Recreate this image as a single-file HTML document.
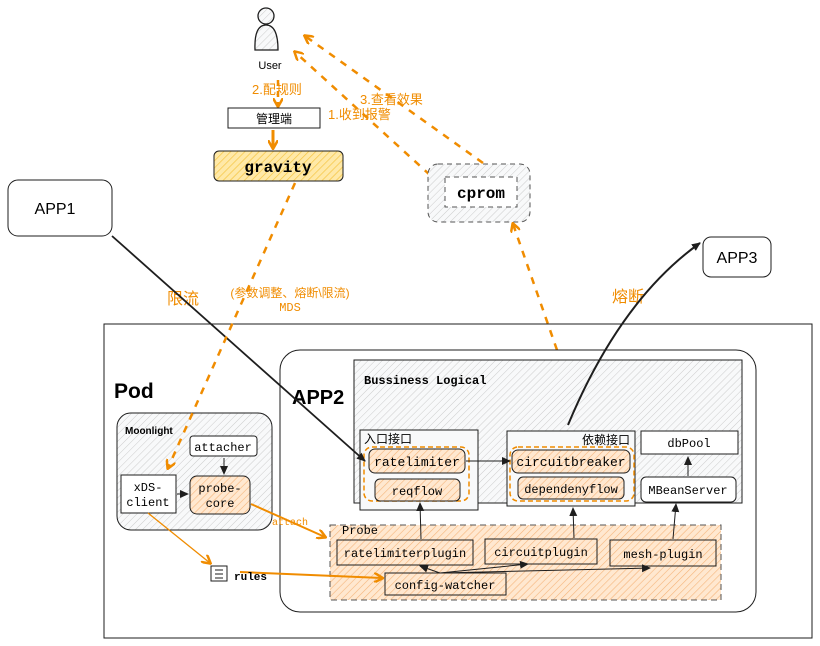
<!DOCTYPE html>
<html><head><meta charset="utf-8"><style>
html,body{margin:0;padding:0;background:#fff;}
svg{display:block;}
text{font-family:"Liberation Mono","Noto Sans CJK SC",monospace;}
.s{font-family:"Liberation Sans","Noto Sans CJK SC",sans-serif;}
.o{fill:#f08c00;}
</style></head><body>
<svg width="820" height="646" viewBox="0 0 820 646" xmlns="http://www.w3.org/2000/svg">
<defs>
<pattern id="h" width="5" height="5" patternUnits="userSpaceOnUse" patternTransform="rotate(45)"><rect width="5" height="5" fill="#f8f9fa"/><line x1="0" y1="0" x2="0" y2="5" stroke="#ccc" stroke-width="1"/></pattern>
<pattern id="ho" width="5" height="5" patternUnits="userSpaceOnUse" patternTransform="rotate(45)"><rect width="5" height="5" fill="#ffe8d0"/><line x1="0" y1="0" x2="0" y2="5" stroke="#f5b57a" stroke-width="1.2"/></pattern>
<pattern id="hy" width="5" height="5" patternUnits="userSpaceOnUse" patternTransform="rotate(45)"><rect width="5" height="5" fill="#ffe9a8"/><line x1="0" y1="0" x2="0" y2="5" stroke="#f5c542" stroke-width="1.4"/></pattern>
<marker id="ao" markerWidth="10" markerHeight="10" refX="8" refY="5" orient="auto" markerUnits="userSpaceOnUse"><path d="M0,0 L9,5 L0,10" fill="none" stroke="#f08c00" stroke-width="2.5"/></marker>
<marker id="ak" markerWidth="10" markerHeight="10" refX="8" refY="5" orient="auto" markerUnits="userSpaceOnUse"><path d="M0,1 L9,5 L0,9 z" fill="#1e1e1e"/></marker>
</defs>

<!-- User -->
<circle cx="266" cy="16" r="8" fill="url(#h)" stroke="#1e1e1e" stroke-width="1.3"/>
<path d="M255,50 Q254,25 266,25 Q278,25 278,50 Z" fill="url(#h)" stroke="#1e1e1e" stroke-width="1.3"/>
<text x="270" y="69" font-size="11" text-anchor="middle" class="s">User</text>
<line x1="278" y1="80" x2="278" y2="106" stroke="#f08c00" stroke-width="2.5" stroke-dasharray="6,5" marker-end="url(#ao)"/>
<text x="252" y="94" font-size="13" class="o s">2.配规则</text>
<rect x="228" y="108" width="92" height="20" fill="#fff" stroke="#1e1e1e"/>
<text x="274" y="123" font-size="12" text-anchor="middle" class="s">管理端</text>
<line x1="273" y1="130" x2="273" y2="148" stroke="#f08c00" stroke-width="3" marker-end="url(#ao)"/>
<rect x="214" y="151" width="129" height="30" rx="5" fill="url(#hy)" stroke="#1e1e1e"/>
<text x="278" y="172" font-size="16" font-weight="bold" text-anchor="middle">gravity</text>

<!-- dashed arrows to user -->
<line x1="430" y1="175" x2="295" y2="52" stroke="#f08c00" stroke-width="2.5" stroke-dasharray="7,7" marker-end="url(#ao)"/>
<line x1="483" y1="163" x2="305" y2="36" stroke="#f08c00" stroke-width="2.5" stroke-dasharray="7,7" marker-end="url(#ao)"/>
<text x="360" y="104" font-size="13" class="o s">3.查看效果</text>
<text x="328" y="119" font-size="13" class="o s">1.收到报警</text>

<!-- cprom -->
<rect x="428" y="164" width="102" height="58" rx="10" fill="url(#h)" stroke="#555" stroke-dasharray="5,4"/>
<rect x="445" y="177" width="72" height="30" fill="#fff" stroke="#555" stroke-dasharray="5,4"/>
<text x="481" y="198" font-size="16" font-weight="bold" text-anchor="middle">cprom</text>
<line x1="557" y1="350" x2="513" y2="224" stroke="#f08c00" stroke-width="2.5" stroke-dasharray="7,7" marker-end="url(#ao)"/>

<!-- APP1 / APP3 -->
<rect x="8" y="180" width="104" height="56" rx="10" fill="#fff" stroke="#1e1e1e"/>
<text x="55" y="214" font-size="16" text-anchor="middle" class="s">APP1</text>
<rect x="703" y="237" width="68" height="40" rx="8" fill="#fff" stroke="#1e1e1e"/>
<text x="737" y="263" font-size="16" text-anchor="middle" class="s">APP3</text>
<text x="612" y="302" font-size="16" class="o s">熔断</text>
<text x="167" y="304" font-size="16" class="o s">限流</text>
<text x="290" y="297" font-size="12" text-anchor="middle" class="o s">(参数调整、熔断\限流)</text>
<text x="290" y="311" font-size="12" text-anchor="middle" class="o">MDS</text>

<!-- Pod -->
<rect x="104" y="324" width="708" height="314" fill="none" stroke="#1e1e1e"/>
<text x="114" y="398" font-size="21" font-weight="bold" class="s">Pod</text>
<rect x="117" y="413" width="155" height="117" rx="14" fill="url(#h)" stroke="#1e1e1e"/>
<text x="125" y="434" font-size="10" font-weight="bold" class="s">Moonlight</text>
<rect x="190" y="436" width="67" height="20" rx="3" fill="#fff" stroke="#1e1e1e"/>
<text x="223" y="451" font-size="12" text-anchor="middle">attacher</text>
<rect x="121" y="475" width="55" height="38" fill="#fff" stroke="#1e1e1e"/>
<text x="148" y="491" font-size="12" text-anchor="middle">xDS-</text>
<text x="148" y="506" font-size="12" text-anchor="middle">client</text>
<rect x="190" y="476" width="60" height="38" rx="7" fill="url(#ho)" stroke="#1e1e1e"/>
<text x="220" y="492" font-size="12" text-anchor="middle">probe-</text>
<text x="220" y="507" font-size="12" text-anchor="middle">core</text>
<line x1="224" y1="458" x2="224" y2="474" stroke="#1e1e1e" marker-end="url(#ak)"/>
<line x1="177" y1="494" x2="188" y2="494" stroke="#1e1e1e" marker-end="url(#ak)"/>

<!-- APP2 -->
<rect x="280" y="350" width="476" height="262" rx="20" fill="#fff" stroke="#1e1e1e"/>
<text x="292" y="404" font-size="20" font-weight="bold" class="s">APP2</text>
<rect x="354" y="360" width="388" height="143" fill="url(#h)" stroke="#1e1e1e"/>
<text x="364" y="384" font-size="12" font-weight="bold">Bussiness Logical</text>
<rect x="360" y="430" width="118" height="80" fill="#f8f9fa" stroke="#1e1e1e"/>
<text x="364" y="443" font-size="12" class="s">入口接口</text>
<rect x="364" y="447" width="105" height="54" rx="8" fill="none" stroke="#f08c00" stroke-width="1.5" stroke-dasharray="5,3"/>
<rect x="369" y="449" width="96" height="24" rx="6" fill="url(#ho)" stroke="#1e1e1e"/>
<text x="417" y="466" font-size="13" text-anchor="middle">ratelimiter</text>
<rect x="375" y="479" width="85" height="22" rx="5" fill="url(#ho)" stroke="#1e1e1e"/>
<text x="417" y="495" font-size="12" text-anchor="middle">reqflow</text>
<rect x="507" y="431" width="128" height="75" fill="#f8f9fa" stroke="#1e1e1e"/>
<text x="630" y="444" font-size="12" text-anchor="end" class="s">依赖接口</text>
<rect x="510" y="447" width="124" height="54" rx="8" fill="none" stroke="#f08c00" stroke-width="1.5" stroke-dasharray="5,3"/>
<rect x="512" y="450" width="118" height="23" rx="6" fill="url(#ho)" stroke="#1e1e1e"/>
<text x="571" y="466" font-size="13" text-anchor="middle">circuitbreaker</text>
<rect x="518" y="477" width="106" height="22" rx="5" fill="url(#ho)" stroke="#1e1e1e"/>
<text x="571" y="493" font-size="12" text-anchor="middle">dependenyflow</text>
<rect x="641" y="431" width="97" height="23" fill="#fff" stroke="#1e1e1e"/>
<text x="689" y="447" font-size="12" text-anchor="middle">dbPool</text>
<rect x="641" y="477" width="95" height="25" rx="5" fill="#fff" stroke="#1e1e1e"/>
<text x="688" y="494" font-size="12" text-anchor="middle">MBeanServer</text>
<line x1="688" y1="476" x2="688" y2="457" stroke="#1e1e1e" marker-end="url(#ak)"/>
<line x1="466" y1="461" x2="510" y2="461" stroke="#1e1e1e" marker-end="url(#ak)"/>

<!-- Probe -->
<rect x="330" y="525" width="391" height="75" fill="url(#ho)" stroke="#555" stroke-dasharray="6,4"/>
<text x="342" y="534" font-size="12">Probe</text>
<rect x="337" y="540" width="136" height="25" fill="url(#ho)" stroke="#1e1e1e"/>
<text x="405" y="557" font-size="12" text-anchor="middle">ratelimiterplugin</text>
<rect x="485" y="539" width="112" height="25" fill="url(#ho)" stroke="#1e1e1e"/>
<text x="541" y="556" font-size="12" text-anchor="middle">circuitplugin</text>
<rect x="610" y="540" width="106" height="26" fill="url(#ho)" stroke="#1e1e1e"/>
<text x="663" y="558" font-size="12" text-anchor="middle">mesh-plugin</text>
<rect x="385" y="573" width="121" height="22" fill="url(#ho)" stroke="#1e1e1e"/>
<text x="445" y="589" font-size="12" text-anchor="middle">config-watcher</text>
<line x1="421" y1="539" x2="420" y2="503" stroke="#1e1e1e" marker-end="url(#ak)"/>
<line x1="574" y1="538" x2="573" y2="508" stroke="#1e1e1e" marker-end="url(#ak)"/>
<line x1="673" y1="539" x2="676" y2="504" stroke="#1e1e1e" marker-end="url(#ak)"/>
<path d="M440,573 L420,566" stroke="#1e1e1e" fill="none" marker-end="url(#ak)"/>
<path d="M440,573 L528,564" stroke="#1e1e1e" fill="none" marker-end="url(#ak)"/>
<path d="M440,573 L650,568" stroke="#1e1e1e" fill="none" marker-end="url(#ak)"/>

<!-- black flows -->
<line x1="112" y1="236" x2="365" y2="461" stroke="#1e1e1e" stroke-width="1.8" marker-end="url(#ak)"/>
<path d="M568,425 Q620,300 700,243" stroke="#1e1e1e" stroke-width="2" fill="none" marker-end="url(#ak)"/>

<!-- orange flows -->
<line x1="295" y1="183" x2="168" y2="468" stroke="#f08c00" stroke-width="2.5" stroke-dasharray="7,7" marker-end="url(#ao)"/>
<line x1="251" y1="504" x2="325" y2="537" stroke="#f08c00" stroke-width="2" marker-end="url(#ao)"/>
<text x="272" y="525" font-size="10" class="o">attach</text>
<line x1="148" y1="513" x2="210" y2="563" stroke="#f08c00" stroke-width="1.3" marker-end="url(#ao)"/>
<line x1="240" y1="572" x2="382" y2="578" stroke="#f08c00" stroke-width="2" marker-end="url(#ao)"/>
<rect x="211" y="566" width="16" height="15" fill="#fff" stroke="#1e1e1e"/>
<line x1="215" y1="570" x2="223" y2="570" stroke="#1e1e1e"/>
<line x1="215" y1="574" x2="223" y2="574" stroke="#1e1e1e"/>
<line x1="215" y1="578" x2="223" y2="578" stroke="#1e1e1e"/>
<text x="234" y="580" font-size="11" font-weight="bold">rules</text>
</svg>
</body></html>
